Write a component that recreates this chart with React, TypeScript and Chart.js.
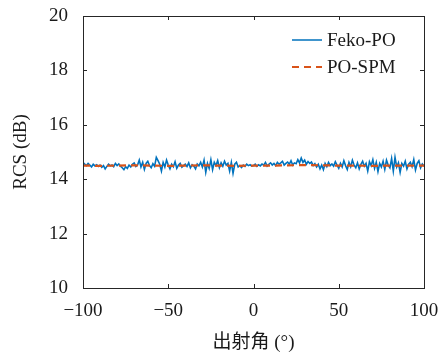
import React, { useEffect, useRef } from "react";
import { Chart, registerables } from "chart.js";

Chart.register(...registerables);

const angles: number[] = Array.from({ length: 201 }, (_, i) => -100 + i);

const fekoPO: number[] = [
  14.62, 14.55, 14.50, 14.58, 14.52, 14.45, 14.55, 14.49, 14.53, 14.47,
  14.52, 14.44, 14.50, 14.38, 14.47, 14.55, 14.49, 14.52, 14.46, 14.58,
  14.50, 14.56, 14.48, 14.42, 14.35, 14.46, 14.40, 14.52, 14.45, 14.55,
  14.60, 14.47, 14.52, 14.70, 14.45, 14.62, 14.36, 14.58, 14.66, 14.50,
  14.42, 14.57, 14.48, 14.80, 14.68, 14.55, 14.30, 14.62, 14.45, 14.70,
  14.52, 14.38, 14.55, 14.46, 14.64, 14.40, 14.52, 14.58, 14.44, 14.50,
  14.55, 14.47, 14.60, 14.42, 14.53, 14.48, 14.38, 14.56, 14.49, 14.62,
  14.45, 14.70, 14.25, 14.58, 14.40, 14.72, 14.35, 14.62, 14.50, 14.68,
  14.42, 14.60, 14.48, 14.66, 14.52, 14.58, 14.30, 14.62, 14.22, 14.55,
  14.62, 14.45, 14.50, 14.43, 14.52, 14.47, 14.55, 14.50, 14.53, 14.48,
  14.50, 14.55, 14.47, 14.53, 14.49, 14.56, 14.52, 14.62, 14.48, 14.55,
  14.60, 14.52, 14.58, 14.50, 14.62, 14.55, 14.60, 14.66, 14.52, 14.58,
  14.63, 14.55, 14.68, 14.52, 14.60, 14.57, 14.72, 14.60, 14.78, 14.62,
  14.70, 14.55, 14.65, 14.58, 14.63, 14.50, 14.57, 14.45, 14.55, 14.38,
  14.52, 14.35, 14.58, 14.46, 14.62, 14.50, 14.56, 14.48, 14.64, 14.52,
  14.40, 14.58, 14.45, 14.68, 14.50, 14.36, 14.62, 14.46, 14.70, 14.52,
  14.42, 14.60, 14.38, 14.55, 14.66, 14.48, 14.58, 14.30, 14.64, 14.50,
  14.72, 14.40, 14.62, 14.28, 14.58, 14.45, 14.66, 14.36, 14.70, 14.52,
  14.42, 14.76, 14.30, 14.80, 14.45, 14.60, 14.25, 14.58, 14.48, 14.66,
  14.38, 14.55, 14.62, 14.46, 14.72, 14.34, 14.58, 14.68, 14.42, 14.56,
  14.48,
];

const spmAngles: number[] = [
  -100, -90, -80, -70, -60, -50, -40, -30, -20, -10, 0, 10, 20, 30, 40, 50, 60,
  70, 80, 90, 100,
];
const poSPM: number[] = [
  14.5, 14.49, 14.5, 14.51, 14.5, 14.49, 14.5, 14.51, 14.5, 14.49, 14.5, 14.5,
  14.51, 14.52, 14.51, 14.5, 14.5, 14.49, 14.5, 14.5, 14.5,
];

const xTicks: number[] = [-100, -50, 0, 50, 100];
const yTicks: number[] = [10, 12, 14, 16, 18, 20];
const seriesNames: string[] = ["Feko-PO", "PO-SPM"];
const xTitle = "出射角 (°)";
const yTitle = "RCS (dB)";

const BLUE = "#0072BD";
const ORANGE = "#D95319";
const FONT = "'Liberation Serif', 'Noto Sans CJK SC', serif";
const TXT = "#1a1a1a";
const DASH = [7, 5];

const framePlugin = {
  id: "frame",
  afterDatasetsDraw(chart: any) {
    const { ctx, chartArea: a, scales } = chart;
    ctx.save();
    ctx.strokeStyle = "#262626";
    ctx.lineWidth = 1;
    ctx.strokeRect(
      Math.round(a.left) + 0.5,
      Math.round(a.top) + 0.5,
      Math.round(a.right - a.left),
      Math.round(a.bottom - a.top)
    );
    const L = 4;
    ctx.beginPath();
    for (const v of xTicks) {
      const px = Math.round(scales.x.getPixelForValue(v)) + 0.5;
      ctx.moveTo(px, a.bottom);
      ctx.lineTo(px, a.bottom - L);
      ctx.moveTo(px, a.top);
      ctx.lineTo(px, a.top + L);
    }
    for (const v of yTicks) {
      const py = Math.round(scales.y.getPixelForValue(v)) + 0.5;
      ctx.moveTo(a.left, py);
      ctx.lineTo(a.left + L, py);
      ctx.moveTo(a.right, py);
      ctx.lineTo(a.right - L, py);
    }
    ctx.stroke();

    // legend
    const lx0 = 292;
    const lx1 = 322;
    const tx = 327;
    const rows = [40, 67];
    ctx.font = `19px ${FONT}`;
    ctx.textBaseline = "middle";
    ctx.textAlign = "left";
    ctx.fillStyle = TXT;
    ctx.lineWidth = 1.5;
    ctx.strokeStyle = BLUE;
    ctx.setLineDash([]);
    ctx.beginPath();
    ctx.moveTo(lx0, rows[0]);
    ctx.lineTo(lx1, rows[0]);
    ctx.stroke();
    ctx.fillText(seriesNames[0], tx, rows[0] + 1);
    ctx.strokeStyle = ORANGE;
    ctx.lineWidth = 2;
    ctx.setLineDash(DASH);
    ctx.beginPath();
    ctx.moveTo(lx0, rows[1]);
    ctx.lineTo(lx1, rows[1]);
    ctx.stroke();
    ctx.setLineDash([]);
    ctx.fillText(seriesNames[1], tx, rows[1] + 1);
    ctx.restore();
  },
};

export default function App() {
  const ref = useRef<HTMLCanvasElement | null>(null);
  useEffect(() => {
    document.body.style.margin = "0";
    const canvas = ref.current;
    if (!canvas) return;
    const chart = new Chart(canvas, {
      type: "line",
      data: {
        datasets: [
          {
            label: seriesNames[0],
            data: angles.map((x, i) => ({ x, y: fekoPO[i] })),
            borderColor: BLUE,
            borderWidth: 1.6,
            pointRadius: 0,
            tension: 0,
            order: 2,
          },
          {
            label: seriesNames[1],
            data: spmAngles.map((x, i) => ({ x, y: poSPM[i] })),
            borderColor: ORANGE,
            borderWidth: 2.2,
            borderDash: DASH,
            pointRadius: 0,
            tension: 0,
            order: 1,
          },
        ],
      },
      options: {
        responsive: false,
        animation: false,
        layout: { padding: { left: 0, right: 20, top: 16, bottom: 0 } },
        plugins: {
          legend: { display: false },
          tooltip: { enabled: false },
        },
        scales: {
          x: {
            type: "linear",
            min: -100,
            max: 100,
            afterFit: (s: any) => {
              s.height = 68;
              s.paddingLeft = 0;
              s.paddingRight = 0;
            },
            afterBuildTicks: (s: any) => {
              s.ticks = xTicks.map((v) => ({ value: v }));
            },
            grid: { display: false, drawTicks: false },
            border: { display: false },
            ticks: {
              padding: 12,
              color: TXT,
              font: { family: FONT, size: 19 },
              maxRotation: 0,
              callback: (v: any) => String(v).replace("-", "\u2212"),
            },
            title: {
              display: true,
              text: xTitle,
              color: TXT,
              font: { family: FONT, size: 19 },
              padding: { top: 0, bottom: 2 },
            },
          },
          y: {
            type: "linear",
            min: 10,
            max: 20,
            afterFit: (s: any) => {
              s.width = 83;
              s.paddingTop = 0;
              s.paddingBottom = 0;
            },
            afterBuildTicks: (s: any) => {
              s.ticks = yTicks.map((v) => ({ value: v }));
            },
            grid: { display: false, drawTicks: false },
            border: { display: false },
            ticks: {
              padding: 15,
              color: TXT,
              font: { family: FONT, size: 19 },
            },
            title: {
              display: true,
              text: yTitle,
              color: TXT,
              font: { family: FONT, size: 19 },
              padding: { top: 10, bottom: 0 },
            },
          },
        },
      },
      plugins: [framePlugin],
    });
    return () => chart.destroy();
  }, []);
  return <canvas ref={ref} width={444} height={356} style={{ display: "block" }} />;
}
